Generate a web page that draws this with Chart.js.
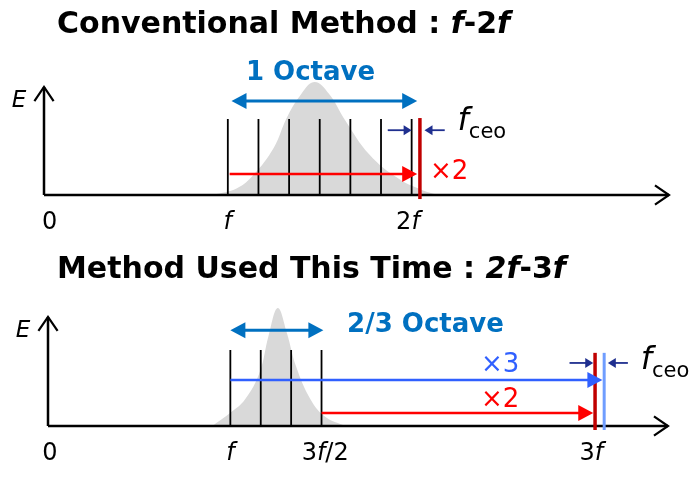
<!DOCTYPE html>
<html><head><meta charset="utf-8">
<script src="https://cdn.jsdelivr.net/npm/chart.js@4/dist/chart.umd.min.js"></script>
<style>
html,body{margin:0;padding:0;background:#fff;}
#wrap{width:700px;height:487px;position:relative;}
#c1{position:absolute;left:0;top:0;}
#c2{position:absolute;left:0;top:243px;}
</style></head><body>
<div id="wrap">
<div id="c1" style="width:700px;height:243px"><canvas id="top"></canvas></div>
<div id="c2" style="width:700px;height:244px"><canvas id="bot"></canvas></div>
</div>
<script>
// ---- top diagram data (x in units of f, y in relative field amplitude)
const topComb = [1, 7/6, 8/6, 9/6, 10/6, 11/6, 2];
const topCombHeight = 0.563;
const topEnvX = [0.92, 1.05, 1.14, 1.25, 1.32, 1.39, 1.47, 1.55, 1.64, 1.77, 1.93, 2.07, 2.15];
const topEnvY = [0.0, 0.05, 0.15, 0.35, 0.57, 0.73, 0.837, 0.75, 0.55, 0.3, 0.12, 0.03, 0.0];
const topRedLine = 2.045;
// ---- bottom diagram data
const botComb = [1, 7/6, 8/6, 9/6];
const botCombHeight = 0.571;
const botEnvX = [0.90, 1.0, 1.08, 1.16, 1.21, 1.26, 1.31, 1.36, 1.44, 1.52, 1.63];
const botEnvY = [0.0, 0.1, 0.2, 0.4, 0.68, 0.887, 0.7, 0.45, 0.2, 0.07, 0.0];
const botRedLine = 3.0;
const botBlueLine = 3.05;

function combData(xs, h){
  const d=[]; xs.forEach(x=>{d.push({x:x,y:0},{x:x,y:h},{x:x,y:null});}); return d;
}
function envData(xs, ys){ return xs.map((x,i)=>({x:x,y:ys[i]})); }

function arrowHead(ctx, x1,y1,x2,y2,len,wid,color){
  const a=Math.atan2(y2-y1,x2-x1);
  ctx.fillStyle=color; ctx.beginPath();
  ctx.moveTo(x2,y2);
  ctx.lineTo(x2-len*Math.cos(a)+wid*Math.sin(a), y2-len*Math.sin(a)-wid*Math.cos(a));
  ctx.lineTo(x2-len*Math.cos(a)-wid*Math.sin(a), y2-len*Math.sin(a)+wid*Math.cos(a));
  ctx.closePath(); ctx.fill();
}
function openHead(ctx,x1,y1,x2,y2,len,color){
  const a=Math.atan2(y2-y1,x2-x1);
  ctx.strokeStyle=color; ctx.lineWidth=2.2; ctx.beginPath();
  ctx.moveTo(x2-len*Math.cos(a-0.6), y2-len*Math.sin(a-0.6));
  ctx.lineTo(x2,y2);
  ctx.lineTo(x2-len*Math.cos(a+0.6), y2-len*Math.sin(a+0.6));
  ctx.stroke();
}

function makePlugin(spec){
  return {
    id:'diagram',
    afterDatasetsDraw(chart){
      const ctx=chart.ctx, xs=chart.scales.x, ys=chart.scales.y;
      const X=v=>xs.getPixelForValue(v), Y=v=>ys.getPixelForValue(v);
      ctx.save();
      ctx.strokeStyle='#000'; ctx.lineWidth=2.5; ctx.lineCap='butt';
      ctx.beginPath(); ctx.moveTo(X(0),Y(0)); ctx.lineTo(X(spec.xMax),Y(0));
      ctx.moveTo(X(0),Y(0)); ctx.lineTo(X(0),Y(spec.yAxisTop)); ctx.stroke();
      openHead(ctx,X(0),Y(0),X(spec.xMax),Y(0),17,'#000');
      openHead(ctx,X(0),Y(0),X(0),Y(spec.yAxisTop),17,'#000');
      spec.marks.forEach(m=>{
        ctx.strokeStyle=m.color; ctx.lineWidth=m.w;
        ctx.beginPath(); ctx.moveTo(X(m.x),Y(m.y0)); ctx.lineTo(X(m.x),Y(m.y1)); ctx.stroke();
      });
      spec.arrows.forEach(a=>{
        const x1=X(a.x1),x2=X(a.x2),y=Y(a.y);
        ctx.strokeStyle=a.color; ctx.lineWidth=a.w;
        const hl=a.hl, hw=a.hw;
        ctx.beginPath();
        ctx.moveTo(a.both? x1+(x2>x1?hl:-hl)*0.8 : x1, y);
        ctx.lineTo(x2-(x2>x1?hl:-hl)*0.8, y); ctx.stroke();
        arrowHead(ctx,x1,y,x2,y,hl,hw,a.color);
        if(a.both) arrowHead(ctx,x2,y,x1,y,hl,hw,a.color);
      });
      ctx.textBaseline='middle';
      spec.texts.forEach(t=>{
        ctx.fillStyle=t.color; ctx.font=t.font; ctx.textAlign=t.align||'center';
        ctx.fillText(t.s, X(t.x), Y(t.y));
      });
      ctx.fillStyle='#000';
      ctx.textAlign='left';
      spec.ticks.forEach(t=>{
        let x=X(t.x); const y=Y(0)+28;
        const parts=t.parts; let w=0;
        parts.forEach(p=>{ctx.font=p[1]; w+=ctx.measureText(p[0]).width;});
        let cx=x-w/2;
        parts.forEach(p=>{ctx.font=p[1]; ctx.fillText(p[0],cx,y); cx+=ctx.measureText(p[0]).width;});
      });
      const fx=X(spec.fceo.x), fy=Y(spec.fceo.y);
      ctx.textAlign='left'; ctx.font='italic 32px "DejaVu Sans"'; ctx.fillStyle='#000';
      ctx.fillText('f',fx,fy-3);
      const fw=ctx.measureText('f').width;
      ctx.font='21px "DejaVu Sans"'; ctx.fillText('ceo',fx+fw,fy+8);
      ctx.font='italic 23px "DejaVu Sans"'; ctx.textAlign='center';
      ctx.fillText('E', X(0)-25, Y(spec.yAxisTop)+14);
      ctx.textAlign='left';
      let tx=57; const ty=spec.titleY;
      spec.title.forEach(p=>{ctx.font=p[1]; ctx.fillText(p[0],tx,ty); tx+=ctx.measureText(p[0]).width;});
      ctx.restore();
    }
  };
}

const TF='bold 30px "DejaVu Sans"', TFI='italic bold 30px "DejaVu Sans"';
const LF='24px "DejaVu Sans"', LFI='italic 24px "DejaVu Sans"';
const BLUE='#0070c0', RED='#ff0000', DRED='#c00000', NAVY='#1f2f8f', ABLUE='#3060ff', LBLUE='#6f9dff';

function build(id, cfg){
  return new Chart(document.getElementById(id),{
    type:'line',
    data:{datasets:[
      {data:envData(cfg.envX,cfg.envY),order:2,fill:'origin',backgroundColor:'#d9d9d9',borderWidth:0,pointRadius:0,tension:0.4},
      {data:combData(cfg.comb,cfg.combH),order:1,borderColor:'#000',borderWidth:1.8,pointRadius:0,spanGaps:false,fill:false}
    ]},
    options:{
      responsive:true, maintainAspectRatio:false, animation:false,
      layout:{padding:cfg.pad},
      plugins:{legend:{display:false},tooltip:{enabled:false}},
      scales:{x:{type:'linear',min:0,max:cfg.xMax,display:false},y:{min:0,max:1,display:false}}
    },
    plugins:[makePlugin(cfg)]
  });
}

build('top',{
  envX:topEnvX, envY:topEnvY, comb:topComb, combH:topCombHeight,
  pad:{left:44,right:31,top:60,bottom:48}, xMax:3.4, yAxisTop:0.8, titleY:25,
  title:[['Conventional Method : ',TF],['f',TFI],['-2',TF],['f',TFI]],
  marks:[{x:topRedLine,y0:-0.03,y1:0.57,color:DRED,w:3.5}],
  arrows:[
    {x1:1.02,x2:2.03,y:0.696,color:BLUE,w:3,hl:15,hw:8,both:true},
    {x1:1.01,x2:2.03,y:0.156,color:RED,w:2.5,hl:15,hw:8},
    {x1:1.87,x2:2.0,y:0.48,color:NAVY,w:1.8,hl:8,hw:5},
    {x1:2.18,x2:2.07,y:0.48,color:NAVY,w:1.8,hl:8,hw:5}
  ],
  texts:[
    {s:'1 Octave',x:1.45,y:0.9,color:BLUE,font:'bold 26px "DejaVu Sans"'},
    {s:'×2',x:2.1,y:0.17,color:RED,font:'26px "DejaVu Sans"',align:'left'}
  ],
  ticks:[{x:0.03,parts:[['0',LF]]},{x:1,parts:[['f',LFI]]},{x:1.98,parts:[['2',LF],['f',LFI]]}],
  fceo:{x:2.25,y:0.52}
});

build('bot',{
  envX:botEnvX, envY:botEnvY, comb:botComb, combH:botCombHeight,
  pad:{left:48,right:32,top:50,bottom:61}, xMax:3.4, yAxisTop:0.82, titleY:27,
  title:[['Method Used This Time : ',TF],['2f',TFI],['-3',TF],['f',TFI]],
  marks:[{x:botRedLine,y0:-0.03,y1:0.55,color:DRED,w:3.5},{x:botBlueLine,y0:-0.03,y1:0.55,color:LBLUE,w:3}],
  arrows:[
    {x1:1.0,x2:1.51,y:0.72,color:BLUE,w:3,hl:15,hw:8,both:true},
    {x1:1.0,x2:3.04,y:0.346,color:ABLUE,w:2.5,hl:15,hw:8},
    {x1:1.5,x2:2.99,y:0.098,color:RED,w:2.5,hl:15,hw:8},
    {x1:2.86,x2:2.99,y:0.474,color:NAVY,w:1.8,hl:8,hw:5},
    {x1:3.18,x2:3.07,y:0.474,color:NAVY,w:1.8,hl:8,hw:5}
  ],
  texts:[
    {s:'2/3 Octave',x:2.07,y:0.76,color:BLUE,font:'bold 26px "DejaVu Sans"'},
    {s:'×3',x:2.48,y:0.46,color:ABLUE,font:'26px "DejaVu Sans"'},
    {s:'×2',x:2.48,y:0.195,color:RED,font:'26px "DejaVu Sans"'}
  ],
  ticks:[{x:0.01,parts:[['0',LF]]},{x:1,parts:[['f',LFI]]},{x:1.52,parts:[['3',LF],['f',LFI],['/2',LF]]},{x:2.98,parts:[['3',LF],['f',LFI]]}],
  fceo:{x:3.25,y:0.47}
});
</script>
</body></html>
